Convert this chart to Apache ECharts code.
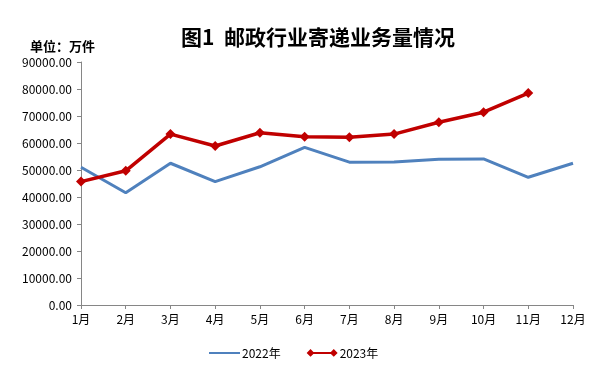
<!DOCTYPE html>
<html><head><meta charset="utf-8">
<script src="https://cdn.jsdelivr.net/npm/echarts@6/dist/echarts.min.js"></script>
<style>html,body{margin:0;padding:0;background:#fff}#c{width:616px;height:386px}</style>
</head><body><div id="c"></div>
<script>
var months = ['1月','2月','3月','4月','5月','6月','7月','8月','9月','10月','11月','12月'];
var data2022 = [51000, 41600, 52500, 45700, 51200, 58400, 52900, 53000, 54000, 54100, 47300, 52500];
var data2023 = [45700, 49700, 63300, 58900, 63800, 62300, 62100, 63300, 67700, 71400, 78500];
var yTicks = {min: 0, max: 90000, interval: 10000};

var FONT = '"Noto Sans CJK SC", "Noto Sans", sans-serif';
var chart = echarts.init(document.getElementById('c'), null, {renderer: 'canvas'});
chart.setOption({
  backgroundColor: '#fff',
  animation: false,
  title: [{
    text: '图1  邮政行业寄递业务量情况',
    left: 313, top: 22, textAlign: 'center',
    textStyle: {fontFamily: FONT, fontWeight: 'bold', fontSize: 21, color: '#000'}
  }, {
    text: '单位：万件',
    left: 25, top: 35,
    textStyle: {fontFamily: FONT, fontWeight: 'bold', fontSize: 13, color: '#000'}
  }],
  grid: {left: 81, right: 43, top: 62, bottom: 81, containLabel: false},
  legend: {
    bottom: 22, left: 204,
    itemWidth: 31, itemHeight: 10, itemGap: 26,
    textStyle: {fontFamily: FONT, fontSize: 12, color: '#000', padding: [0,0,0,-3]},
    data: [
      {name: '2022年', icon: 'path://M0,0L0.01,0L0,0.01Z M0,3.6L40,3.6L40,6.4L0,6.4Z M40,10L39.99,10L40,9.99Z'},
      {name: '2023年', icon: 'path://M0,5L5,0L10,5L5,10Z M30,5L35,0L40,5L35,10Z M5,3.6L35,3.6L35,6.4L5,6.4Z'}
    ]
  },
  xAxis: {
    type: 'category', data: months, boundaryGap: false,
    axisLine: {lineStyle: {color: '#868686', width: 1}},
    axisTick: {show: true, length: 4, lineStyle: {color: '#868686'}},
    axisLabel: {fontFamily: FONT, fontSize: 12, color: '#000', margin: 8}
  },
  yAxis: {
    type: 'value', min: yTicks.min, max: yTicks.max, interval: yTicks.interval,
    axisLine: {show: true, lineStyle: {color: '#868686', width: 1}},
    axisTick: {show: true, length: 4, lineStyle: {color: '#868686'}},
    splitLine: {show: false},
    axisLabel: {fontFamily: FONT, fontSize: 12, color: '#000', margin: 9,
      formatter: function(v){ return v.toFixed(2); }}
  },
  series: [{
    name: '2022年', type: 'line', data: data2022,
    symbol: 'none', lineStyle: {color: '#4F81BD', width: 3}, itemStyle: {color: '#4F81BD'}
  }, {
    name: '2023年', type: 'line', data: data2023,
    symbol: 'diamond', symbolSize: 10, showAllSymbol: true,
    lineStyle: {color: '#C00000', width: 3.5}, itemStyle: {color: '#C00000'}
  }]
});
</script></body></html>
